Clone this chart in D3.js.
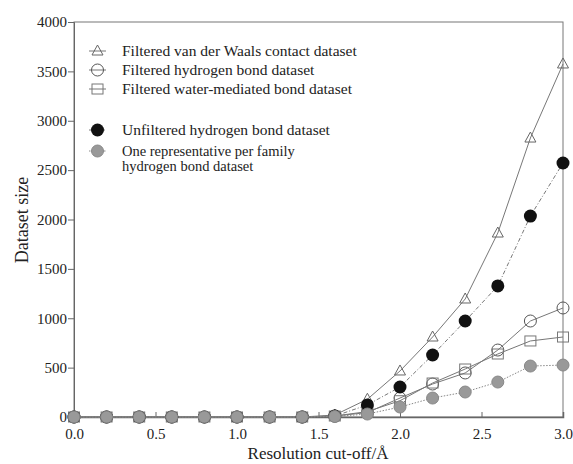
<!DOCTYPE html>
<html><head><meta charset="utf-8">
<script src="https://cdn.jsdelivr.net/npm/d3@7"></script>
<style>body{margin:0;background:#fff}svg{display:block}</style>
</head><body><svg id="c" width="573" height="464"></svg>
<script>
const resolution = [0.0,0.2,0.4,0.6,0.8,1.0,1.2,1.4,1.6,1.8,2.0,2.2,2.4,2.6,2.8,3.0];
const vdwContact   = [0,0,0,0,0,0,0,0,20,180,466,810,1195,1863,2825,3575];
const hbondFilt    = [0,0,0,0,0,0,0,0,10,45,192,334,446,678,972,1104];
const waterMed     = [0,0,0,0,0,0,0,0,10,55,165,344,486,638,770,810];
const hbondUnfilt  = [0,0,0,0,0,0,0,0,10,122,304,628,972,1327,2035,2572];
const repFamily    = [0,0,0,0,0,0,0,0,5,30,101,192,253,354,516,526];
const yTicks = [0,500,1000,1500,2000,2500,3000,3500,4000];
const xTicks = [0.0,0.5,1.0,1.5,2.0,2.5,3.0];
const legendLabels = [
  ["Filtered van der Waals contact dataset"],
  ["Filtered hydrogen bond dataset"],
  ["Filtered water-mediated bond dataset"],
  ["Unfiltered hydrogen bond dataset"],
  ["One representative per family","hydrogen bond dataset"]
];

const FONT = "'Liberation Serif', 'Times New Roman', 'DejaVu Serif', serif";
const svg = d3.select("#c");
const L=74,R=563,T=22,B=417;
const x = d3.scaleLinear().domain([0,3]).range([L,R]);
const y = d3.scaleLinear().domain([0,4000]).range([B,T]);

svg.append("rect").attr("x",L).attr("y",T).attr("width",R-L).attr("height",B-T)
  .attr("fill","none").attr("stroke","#777").attr("stroke-width",1);

const yAxis = svg.append("g").attr("transform",`translate(${L},0)`)
  .call(d3.axisLeft(y).tickValues(yTicks).tickFormat(d3.format("d")).tickSize(6).tickPadding(1));
yAxis.attr("font-family",null);
yAxis.select(".domain").attr("stroke","#666");
yAxis.selectAll(".tick line").attr("stroke","#666");
yAxis.selectAll("text").style("font-family",FONT).style("font-size","15px").attr("fill","#222");

const xAxis = svg.append("g").attr("transform",`translate(0,${B})`)
  .call(d3.axisBottom(x).tickValues(xTicks).tickFormat(d3.format(".1f")).tickSize(-5).tickPadding(11));
xAxis.attr("font-family",null);
xAxis.select(".domain").attr("stroke","#666").attr("stroke-width",1.5);
xAxis.selectAll(".tick line").attr("stroke","#666");
xAxis.selectAll("text").style("font-family",FONT).style("font-size","15px").attr("fill","#222");

svg.append("text").attr("transform","translate(28,220) rotate(-90)").attr("text-anchor","middle")
  .style("font-family",FONT).style("font-size","18px").attr("fill","#222").text("Dataset size");
svg.append("text").attr("x",318).attr("y",459).attr("text-anchor","middle")
  .style("font-family",FONT).style("font-size","17px").attr("fill","#222").text("Resolution cut-off/Å");

const series = [
  {v:vdwContact, sym:"tri", dash:null, col:"#777"},
  {v:hbondFilt, sym:"circ", dash:null, col:"#777"},
  {v:waterMed, sym:"sq", dash:null, col:"#777"},
  {v:hbondUnfilt, sym:"black", dash:"4,2,1,2", col:"#777"},
  {v:repFamily, sym:"gray", dash:"1.5,1.5", col:"#888"}
];
function marker(g, sym, cx, cy){
  if(sym==="tri"){
    g.append("path").attr("d",`M${cx},${cy-6}L${cx+5.5},${cy+4}L${cx-5.5},${cy+4}Z`)
     .attr("fill","none").attr("stroke","#666").attr("stroke-width",1);
  } else if(sym==="circ"){
    g.append("circle").attr("cx",cx).attr("cy",cy).attr("r",6).attr("fill","none").attr("stroke","#555").attr("stroke-width",1);
  } else if(sym==="sq"){
    g.append("rect").attr("x",cx-5.5).attr("y",cy-5).attr("width",11).attr("height",10).attr("fill","none").attr("stroke","#777").attr("stroke-width",1);
  } else if(sym==="black"){
    g.append("circle").attr("cx",cx).attr("cy",cy).attr("r",6.5).attr("fill","#111");
  } else {
    g.append("circle").attr("cx",cx).attr("cy",cy).attr("r",6).attr("fill","#999").attr("stroke","#888");
  }
}
const line = d3.line().x((d,i)=>x(resolution[i])).y(d=>y(d));
series.forEach(s=>{
  const g = svg.append("g");
  g.append("path").datum(s.v).attr("d",line).attr("fill","none").attr("stroke",s.col).attr("stroke-width",1)
    .attr("stroke-dasharray",s.dash);
  s.v.forEach((v,i)=>marker(g,s.sym,x(resolution[i]),y(v)));
});

const ly = [51,70,89,130,151];
series.forEach((s,i)=>{
  const g = svg.append("g");
  g.append("line").attr("x1",89).attr("x2",106).attr("y1",ly[i]).attr("y2",ly[i]).attr("stroke",s.col)
    .attr("stroke-dasharray",s.dash);
  marker(g,s.sym,97.5,ly[i]);
  legendLabels[i].forEach((t,j)=>{
    g.append("text").attr("x",122).attr("y",ly[i]+5+j*15).style("font-family",FONT)
      .style("font-size",(i===4?"14.5px":"15.5px")).attr("fill","#222").text(t);
  });
});
</script></body></html>
